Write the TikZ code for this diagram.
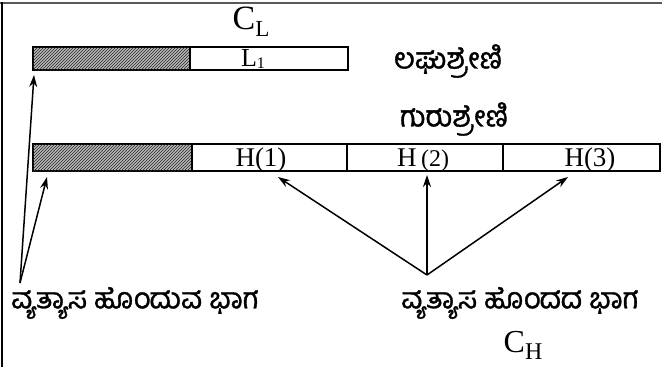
\documentclass[tikz,border=0pt]{standalone}
\usepackage{fontspec}
\setmainfont{Liberation Serif}
\newfontfamily\kan[Script=Kannada,FakeBold=1.2]{Hind Mysuru}
\usetikzlibrary{patterns,arrows.meta,calc}
\begin{document}
\begin{tikzpicture}[x=1pt,y=-1pt,
  seg/.style={draw=black,line width=1.4pt,anchor=north west,inner sep=0pt,outer sep=0pt},
  hatchbox/.style={seg,fill=gray!55,pattern color=black!85,postaction={pattern=north east lines}},
  kn/.style={font=\kan\fontsize{29}{32}\selectfont,inner sep=0pt},
  lat/.style={font=\fontsize{27}{30}\selectfont,inner sep=0pt},
  hlab/.style={lat,anchor=base,text height=17pt,text depth=1pt},
  arr/.style={line width=1.5pt,-{Stealth[length=12pt,width=8pt]}}]
\useasboundingbox[fill=white] (0,0) rectangle (662,367);
% frame
\draw[gray!70!black,line width=2pt] (0,3) -- (662,3);
\draw[black,line width=1.5pt] (2,2) -- (2,367);
% light chain
\node[hatchbox,minimum width=157pt,minimum height=23pt] (lv) at (33,47) {};
\node[seg,minimum width=158pt,minimum height=23pt] (lc) at (190,47) {};
\node[lat,font=\fontsize{26}{28}\selectfont,anchor=base,text height=16pt,text depth=4pt] (l1) at (253,66) {L\raisebox{-2pt}{\fontsize{16}{16}\selectfont 1}};
\node[lat,font=\fontsize{34}{36}\selectfont] (cl) at (251,22) {C\raisebox{-7pt}{\fontsize{23}{23}\selectfont L}};
\node[kn] (lt) at (448,61) {ಲಘುಶ್ರೇಣಿ};
% heavy chain
\node[hatchbox,minimum width=159pt,minimum height=27pt] (hv) at (33,144) {};
\node[seg,minimum width=155pt,minimum height=27pt] (h1) at (192,144) {};
\node[seg,minimum width=156pt,minimum height=27pt] (h2) at (347,144) {};
\node[seg,minimum width=157pt,minimum height=27pt] (h3) at (503,144) {};
\node[hlab] (h1t) at (261,166) {H(1)};
\node[hlab] (h2t) at (423,166) {H\,{\fontsize{24}{25}\selectfont(2)}};
\node[hlab] (h3t) at (590,166) {H(3)};
\node[kn] (ht) at (454,119) {ಗುರುಶ್ರೇಣಿ};
% bottom labels
\node[kn] (vt) at (135,303) {ವ್ಯತ್ಯಾಸ ಹೊಂದುವ ಭಾಗ};
\node[kn] (ct) at (520,303) {ವ್ಯತ್ಯಾಸ ಹೊಂದದ ಭಾಗ};
\node[lat,font=\fontsize{32}{34}\selectfont,anchor=base,text height=20pt,text depth=8pt] (ch) at (523,352) {C\raisebox{-7pt}{\fontsize{24}{24}\selectfont H}};
% arrows
\coordinate (vo) at (20,283);
\coordinate (co) at (427,275);
\draw[arr] (vo) -- ($(lv.south west)+(1,5)$);
\draw[arr] (vo) -- ($(hv.south west)+(14,6)$);
\draw[arr] (co) -- ($(h1.south west)+(86,6)$);
\draw[arr] (co) -- ($(h2.south west)+(80,4)$);
\draw[arr] (co) -- ($(h3.south west)+(65,6)$);
\end{tikzpicture}
\end{document}
